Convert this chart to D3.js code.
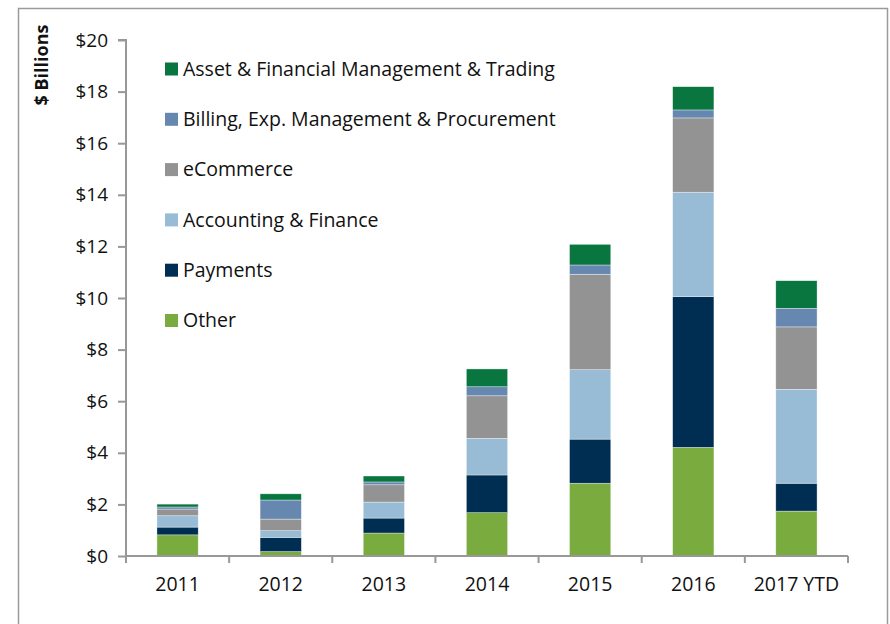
<!DOCTYPE html>
<html>
<head>
<meta charset="utf-8">
<script src="https://cdn.jsdelivr.net/npm/d3@7"></script>
<style>
  body { margin: 0; background: #fff; }
  svg text { font-family: 'Open Sans', 'Noto Sans', sans-serif; fill: #111; }
</style>
</head>
<body>
<div id="chart-area"></div>
<script>
// values ($ billions)
var years = ['2011', '2012', '2013', '2014', '2015', '2016', '2017 YTD']
var other = [0.82, 0.17, 0.89, 1.68, 2.82, 4.21, 1.74]
var payments = [0.30, 0.55, 0.58, 1.46, 1.71, 5.84, 1.08]
var accounting = [0.44, 0.26, 0.62, 1.42, 2.69, 4.05, 3.64]
var ecommerce = [0.26, 0.45, 0.67, 1.65, 3.70, 2.88, 2.42]
var billing = [0.08, 0.74, 0.11, 0.35, 0.36, 0.31, 0.72]
var asset = [0.11, 0.24, 0.23, 0.69, 0.80, 0.90, 1.07]
var yTicks = [0, 2, 4, 6, 8, 10, 12, 14, 16, 18, 20]

// bottom to top stacking order
var series = [
  { key: 'Other', values: other, color: '#7aab3e' },
  { key: 'Payments', values: payments, color: '#002e52' },
  { key: 'Accounting & Finance', values: accounting, color: '#99bcd6' },
  { key: 'eCommerce', values: ecommerce, color: '#939393' },
  { key: 'Billing, Exp. Management & Procurement', values: billing, color: '#6688b0' },
  { key: 'Asset & Financial Management & Trading', values: asset, color: '#08763e' }
]

var W = 890, H = 624
var margin = { left: 126, right: 42, top: 40, bottom: 68 }
var width = W - margin.left - margin.right,
    height = H - margin.top - margin.bottom

var svg = d3.select('#chart-area')
  .append('svg')
    .attr('width', W)
    .attr('height', H)

// outer frame
svg.append('rect')
  .attr('x', 18.5).attr('y', 8.5)
  .attr('width', 869).attr('height', 640)
  .attr('fill', 'none')
  .attr('stroke', '#9a9a9a')
  .attr('stroke-width', 1.5)

var g = svg.append('g')
  .attr('transform', 'translate(' + margin.left + ',' + margin.top + ')')

var rows = years.map((y, i) => {
  var r = { year: y }
  series.forEach(s => { r[s.key] = s.values[i] })
  return r
})

var stack = d3.stack().keys(series.map(s => s.key))
var layers = stack(rows)

var x = d3.scaleBand()
  .domain(years)
  .range([0, width])
  .paddingInner(0.6)
  .paddingOuter(0.3)

var y = d3.scaleLinear()
  .domain([0, 20])
  .range([height, 0])

// bars
g.selectAll('.layer')
  .data(layers)
  .enter().append('g')
    .attr('class', 'layer')
    .attr('fill', (d, i) => series[i].color)
  .selectAll('rect')
  .data(d => d)
  .enter().append('rect')
    .attr('x', d => x(d.data.year))
    .attr('y', d => y(d[1]))
    .attr('width', x.bandwidth())
    .attr('height', d => y(d[0]) - y(d[1]))
    .attr('stroke', 'rgba(255,255,255,0.6)')
    .attr('stroke-width', 0.6)

// y axis
var yAxis = g.append('g')
  .call(d3.axisLeft(y).tickValues(yTicks).tickSize(8).tickPadding(10).tickFormat(d => '$' + d))
yAxis.selectAll('text').attr('font-size', '19px').style('font-family', "'Open Sans', sans-serif")
yAxis.selectAll('line, path').attr('stroke', '#989898').attr('stroke-width', 2)
yAxis.select('path').attr('d', 'M0,' + height + 'V0H-8')

// x axis with ticks between categories
var xAxis = g.append('g')
  .attr('transform', 'translate(0,' + height + ')')
  .call(d3.axisBottom(x).tickSize(0).tickPadding(21))
xAxis.selectAll('text').attr('font-size', '19.5px').style('font-family', "'Open Sans', sans-serif")
xAxis.select('path').attr('stroke', '#989898').attr('stroke-width', 2).attr('d', 'M0,0H' + width)
xAxis.selectAll('.sep')
  .data(d3.range(years.length + 1))
  .enter().append('line')
    .attr('x1', i => i * width / years.length)
    .attr('x2', i => i * width / years.length)
    .attr('y1', 0).attr('y2', 7)
    .attr('stroke', '#989898')
    .attr('stroke-width', 2)

// y title
svg.append('text')
  .attr('transform', 'translate(48,65) rotate(-90)')
  .attr('text-anchor', 'middle')
  .attr('font-size', '18px')
  .attr('font-weight', 'bold')
  .text('$ Billions')

// legend, top to bottom
var legendItems = series.slice().reverse()
var legend = svg.append('g').attr('transform', 'translate(165,69)')
legendItems.forEach((s, i) => {
  var row = legend.append('g').attr('transform', 'translate(0,' + (i * 50.3) + ')')
  row.append('rect')
    .attr('x', 0).attr('y', -6.5)
    .attr('width', 13).attr('height', 13)
    .attr('fill', s.color)
  row.append('text')
    .attr('x', 18)
    .attr('dy', '0.35em')
    .attr('font-size', '19.5px')
    .text(s.key)
})
</script>
</body>
</html>
